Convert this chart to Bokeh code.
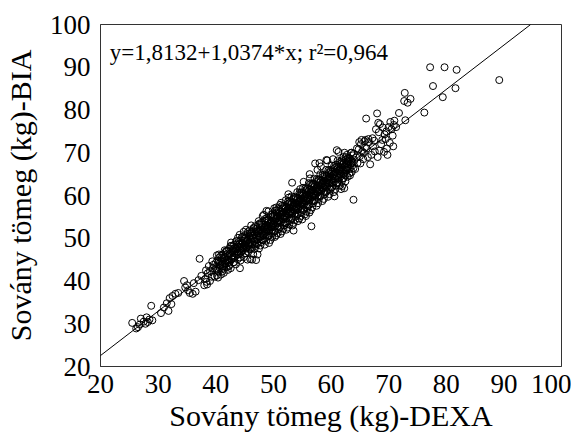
from bokeh.plotting import figure
from bokeh.models import ColumnDataSource, FixedTicker, Slope, Label
from bokeh.embed import file_html
from bokeh.resources import INLINE

# ---- data ----
x_ticks = [20, 30, 40, 50, 60, 70, 80, 90, 100]
y_ticks = [20, 30, 40, 50, 60, 70, 80, 90, 100]
x_label = "Sovány tömeg (kg)-DEXA"
y_label = "Sovány tömeg (kg)-BIA"
intercept = 1.8132
slope = 1.0374
eq_text = "y=1,8132+1,0374*x; r\u00b2=0,964"

low_points = [
    (25.5, 30.2), (26.5, 29.2), (26.8, 29.8), (27.0, 31.2), (27.5, 30.5), (28.0, 31.5),
    (28.2, 30.4), (28.5, 31.0), (28.8, 34.2), (29.0, 30.8), (27.8, 30.0), (26.2, 28.9),
    (30.5, 32.5), (31.0, 33.8), (31.5, 34.8), (31.8, 33.0), (32.0, 36.0), (32.5, 36.5),
    (33.0, 37.0), (32.3, 34.6), (33.5, 37.2), (34.5, 40.0), (34.7, 38.5), (35.0, 39.0),
    (35.5, 37.2), (36.0, 37.0), (36.5, 37.5), (35.2, 37.8), (36.2, 39.5), (37.0, 40.2),
    (37.5, 41.2), (37.2, 45.2), (38.0, 39.0), (38.5, 39.2), (38.3, 42.5), (39.0, 40.0),
    (39.5, 43.0), (39.8, 41.0), (38.2, 40.5), (38.6, 41.8), (39.0, 42.3), (39.3, 41.0),
    (39.6, 43.8), (39.9, 42.6), (38.8, 43.5), (39.4, 44.6), (38.4, 39.8),
]

mid_points = [
    (40.1, 43.0), (40.3, 44.8), (40.5, 42.1), (40.6, 45.5), (40.8, 43.7), (40.9, 41.5), (40.2, 46.0), (40.7, 44.2), (40.4, 40.8),
    (41.0, 44.5), (41.2, 42.8), (41.3, 46.2), (41.5, 44.0), (41.6, 45.3), (41.8, 43.2), (41.9, 47.1), (41.4, 41.9), (41.7, 46.8), (41.1, 43.9), (41.95, 44.9),
    (42.0, 45.8), (42.1, 42.6), (42.3, 47.5), (42.4, 44.3), (42.5, 46.3), (42.6, 43.0), (42.7, 48.2), (42.8, 45.1), (42.9, 46.9), (42.2, 44.9), (42.65, 49.0), (42.35, 43.6),
    (43.0, 47.2), (43.1, 44.4), (43.2, 48.5), (43.3, 45.9), (43.4, 47.9), (43.5, 43.9), (43.6, 49.3), (43.7, 46.6), (43.8, 45.1), (43.9, 48.0), (43.25, 46.9), (43.55, 47.5), (43.85, 50.1),
    (44.0, 46.2), (44.1, 48.7), (44.2, 47.3), (44.3, 44.8), (44.4, 49.5), (44.5, 46.9), (44.6, 48.1), (44.7, 50.4), (44.8, 47.6), (44.9, 45.6), (44.15, 50.8), (44.45, 47.9), (44.75, 49.0), (44.85, 51.5),
    (45.0, 48.4), (45.1, 46.5), (45.2, 50.0), (45.3, 47.8), (45.4, 49.3), (45.5, 45.0), (45.6, 51.0), (45.7, 48.8), (45.8, 50.3), (45.9, 47.4), (45.25, 52.0), (45.55, 49.6), (45.85, 51.8), (45.45, 48.1), (45.65, 46.8),
    (46.0, 49.8), (46.1, 47.9), (46.2, 51.2), (46.3, 48.6), (46.4, 50.5), (46.5, 46.3), (46.6, 52.3), (46.7, 49.4), (46.8, 51.0), (46.9, 48.2), (46.15, 53.0), (46.45, 50.0), (46.75, 47.5), (46.85, 52.8), (46.55, 51.6), (46.3, 45.0),
    (47.0, 50.6), (47.1, 48.8), (47.2, 52.2), (47.3, 49.7), (47.4, 51.3), (47.5, 47.6), (47.6, 53.2), (47.7, 50.5), (47.8, 52.0), (47.9, 49.1), (47.15, 51.7), (47.45, 54.0), (47.75, 48.3), (47.85, 53.6), (47.55, 50.1), (47.25, 46.2),
    (48.0, 51.5), (48.1, 49.6), (48.2, 53.2), (48.3, 50.8), (48.4, 52.4), (48.5, 48.5), (48.6, 54.1), (48.7, 51.6), (48.8, 53.0), (48.9, 50.3), (48.15, 55.2), (48.45, 52.0), (48.75, 49.4), (48.85, 54.7), (48.55, 51.1), (48.35, 55.5), (48.95, 52.6),
    (49.0, 52.4), (49.1, 50.6), (49.2, 54.2), (49.3, 51.8), (49.4, 53.4), (49.5, 49.6), (49.6, 55.0), (49.7, 52.6), (49.8, 54.1), (49.9, 51.2), (49.15, 56.3), (49.45, 52.9), (49.75, 50.3), (49.85, 55.7), (49.55, 53.8), (49.25, 48.9), (49.95, 53.2),
    (50.0, 53.5), (50.1, 51.5), (50.2, 55.2), (50.3, 52.8), (50.4, 54.4), (50.5, 50.7), (50.6, 56.0), (50.7, 53.6), (50.8, 55.1), (50.9, 52.1), (50.15, 57.0), (50.45, 53.9), (50.75, 51.2), (50.85, 56.8), (50.55, 54.7), (50.25, 50.3), (50.95, 54.0), (50.35, 56.5),
    (51.0, 54.3), (51.1, 52.5), (51.2, 56.1), (51.3, 53.7), (51.4, 55.4), (51.5, 51.6), (51.6, 57.0), (51.7, 54.6), (51.8, 56.1), (51.9, 53.0), (51.15, 57.8), (51.45, 54.9), (51.75, 52.2), (51.85, 57.6), (51.55, 55.8), (51.25, 51.0), (51.95, 55.0), (51.35, 58.3),
    (52.0, 55.4), (52.1, 53.4), (52.2, 57.2), (52.3, 54.7), (52.4, 56.4), (52.5, 52.5), (52.6, 58.1), (52.7, 55.6), (52.8, 57.2), (52.9, 54.1), (52.15, 58.9), (52.45, 55.9), (52.75, 53.2), (52.85, 58.7), (52.55, 56.8), (52.25, 52.0), (52.95, 56.0), (52.65, 59.5),
    (53.0, 56.4), (53.1, 54.5), (53.2, 58.2), (53.3, 55.8), (53.4, 57.4), (53.5, 53.6), (53.6, 59.1), (53.7, 56.6), (53.8, 58.2), (53.9, 55.1), (53.15, 59.8), (53.45, 56.9), (53.75, 54.2), (53.85, 59.7), (53.55, 57.8), (53.25, 63.0), (53.95, 57.0), (53.35, 53.0),
    (54.0, 57.5), (54.1, 55.5), (54.2, 59.3), (54.3, 56.8), (54.4, 58.4), (54.5, 54.6), (54.6, 60.1), (54.7, 57.6), (54.8, 59.2), (54.9, 56.1), (54.15, 60.8), (54.45, 57.9), (54.75, 55.2), (54.85, 60.7), (54.55, 58.8), (54.25, 54.0), (54.95, 58.0), (54.65, 61.5),
    (55.0, 58.5), (55.1, 56.6), (55.2, 60.3), (55.3, 57.8), (55.4, 59.5), (55.5, 55.6), (55.6, 61.2), (55.7, 58.7), (55.8, 60.2), (55.9, 57.1), (55.15, 61.8), (55.45, 58.9), (55.75, 56.2), (55.85, 61.7), (55.55, 59.8), (55.25, 63.2), (55.95, 59.0), (55.65, 55.2),
    (56.0, 59.6), (56.1, 57.6), (56.2, 61.3), (56.3, 58.9), (56.4, 60.5), (56.5, 56.6), (56.6, 62.2), (56.7, 59.7), (56.8, 61.3), (56.9, 58.2), (56.15, 62.9), (56.45, 60.0), (56.75, 57.2), (56.85, 62.8), (56.55, 60.8), (56.25, 56.0), (56.95, 60.1), (56.6, 52.8), (56.35, 64.0),
    (57.0, 60.6), (57.1, 58.7), (57.2, 62.4), (57.3, 59.9), (57.4, 61.5), (57.5, 57.6), (57.6, 63.3), (57.7, 60.8), (57.8, 62.3), (57.9, 59.2), (57.15, 63.9), (57.45, 61.0), (57.75, 58.2), (57.85, 63.8), (57.55, 61.8), (57.25, 67.5), (57.95, 61.2), (57.65, 66.0),
    (58.0, 61.6), (58.1, 59.8), (58.2, 63.4), (58.3, 61.0), (58.4, 62.6), (58.5, 58.7), (58.6, 64.3), (58.7, 61.8), (58.8, 63.4), (58.9, 60.3), (58.15, 65.0), (58.45, 62.0), (58.75, 59.2), (58.85, 64.9), (58.55, 62.8), (58.25, 66.8), (58.95, 62.2),
    (59.0, 62.7), (59.1, 60.8), (59.2, 64.5), (59.3, 62.0), (59.4, 63.6), (59.5, 59.7), (59.6, 65.3), (59.7, 62.9), (59.8, 64.4), (59.9, 61.4), (59.15, 66.0), (59.45, 63.0), (59.75, 60.3), (59.85, 66.0), (59.55, 63.9), (59.35, 68.2),
    (60.0, 63.8), (60.1, 61.9), (60.2, 65.5), (60.3, 63.0), (60.4, 64.7), (60.5, 60.8), (60.6, 66.4), (60.7, 63.9), (60.8, 65.5), (60.9, 62.4), (60.15, 67.0), (60.45, 64.1), (60.75, 61.5), (60.85, 67.2), (60.55, 65.0), (60.35, 68.5),
    (61.0, 64.8), (61.1, 62.9), (61.2, 66.6), (61.3, 64.0), (61.4, 65.7), (61.5, 62.3), (61.6, 67.4), (61.7, 64.9), (61.8, 66.5), (61.9, 63.4), (61.15, 68.2), (61.45, 65.1), (61.75, 61.5), (61.85, 68.2), (61.55, 66.0), (61.3, 70.2), (61.95, 62.2),
    (62.0, 65.9), (62.1, 64.0), (62.2, 67.6), (62.3, 65.1), (62.4, 66.7), (62.5, 63.3), (62.6, 68.4), (62.7, 65.9), (62.8, 67.5), (62.9, 64.4), (62.15, 69.0), (62.45, 66.1), (62.75, 69.5), (62.85, 68.0), (62.55, 64.8), (62.35, 70.0),
    (63.0, 66.9), (63.2, 68.7), (63.4, 67.4), (63.6, 65.5), (63.8, 69.4), (63.3, 64.7), (63.7, 68.0), (63.9, 66.4), (63.5, 70.0), (63.1, 67.8), (63.9, 59.0),
]

band_points = [
    (40.05, 44.3), (40.3, 42.4), (40.55, 46.2), (40.8, 43.7), (40.2, 41.3), (40.45, 44.4), (40.7, 43.1), (40.95, 46.0),
    (41.05, 45.4), (41.3, 43.4), (41.55, 47.2), (41.8, 44.8), (41.2, 42.3), (41.45, 45.4), (41.7, 44.2), (41.95, 47.0),
    (42.05, 46.4), (42.3, 44.5), (42.55, 48.2), (42.8, 45.8), (42.2, 43.4), (42.45, 46.4), (42.7, 45.2), (42.95, 48.1),
    (43.05, 47.5), (43.3, 45.5), (43.55, 49.3), (43.8, 46.8), (43.2, 44.4), (43.45, 47.5), (43.7, 46.2), (43.95, 49.1),
    (44.05, 48.5), (44.3, 46.6), (44.55, 50.3), (44.8, 47.9), (44.2, 45.5), (44.45, 48.5), (44.7, 47.3), (44.95, 50.1),
    (45.05, 49.5), (45.3, 47.6), (45.55, 51.4), (45.8, 48.9), (45.2, 46.5), (45.45, 49.6), (45.7, 48.3), (45.95, 51.2),
    (46.05, 50.6), (46.3, 48.6), (46.55, 52.4), (46.8, 49.9), (46.2, 47.5), (46.45, 50.6), (46.7, 49.3), (46.95, 52.2),
    (47.05, 51.6), (47.3, 49.7), (47.55, 53.4), (47.8, 51.0), (47.2, 48.6), (47.45, 51.6), (47.7, 50.4), (47.95, 53.2),
    (48.05, 52.6), (48.3, 50.7), (48.55, 54.5), (48.8, 52.0), (48.2, 49.6), (48.45, 52.7), (48.7, 51.4), (48.95, 54.3),
    (49.05, 53.7), (49.3, 51.7), (49.55, 55.5), (49.8, 53.1), (49.2, 50.6), (49.45, 53.7), (49.7, 52.5), (49.95, 55.3),
    (50.05, 54.7), (50.3, 52.8), (50.55, 56.5), (50.8, 54.1), (50.2, 51.7), (50.45, 54.7), (50.7, 53.5), (50.95, 56.4),
    (51.05, 55.8), (51.3, 53.8), (51.55, 57.6), (51.8, 55.1), (51.2, 52.7), (51.45, 55.8), (51.7, 54.5), (51.95, 57.4),
    (52.05, 56.8), (52.3, 54.8), (52.55, 58.6), (52.8, 56.2), (52.2, 53.7), (52.45, 56.8), (52.7, 55.6), (52.95, 58.4),
    (53.05, 57.8), (53.3, 55.9), (53.55, 59.6), (53.8, 57.2), (53.2, 54.8), (53.45, 57.8), (53.7, 56.6), (53.95, 59.5),
    (54.05, 58.9), (54.3, 56.9), (54.55, 60.7), (54.8, 58.2), (54.2, 55.8), (54.45, 58.9), (54.7, 57.6), (54.95, 60.5),
    (55.05, 59.9), (55.3, 58.0), (55.55, 61.7), (55.8, 59.3), (55.2, 56.9), (55.45, 59.9), (55.7, 58.7), (55.95, 61.5),
    (56.05, 60.9), (56.3, 59.0), (56.55, 62.8), (56.8, 60.3), (56.2, 57.9), (56.45, 61.0), (56.7, 59.7), (56.95, 62.6),
    (57.05, 62.0), (57.3, 60.0), (57.55, 63.8), (57.8, 61.4), (57.2, 58.9), (57.45, 62.0), (57.7, 60.8), (57.95, 63.6),
    (58.05, 63.0), (58.3, 61.1), (58.55, 64.8), (58.8, 62.4), (58.2, 60.0), (58.45, 63.0), (58.7, 61.8), (58.95, 64.7),
    (59.05, 64.0), (59.3, 62.1), (59.55, 65.9), (59.8, 63.4), (59.2, 61.0), (59.45, 64.1), (59.7, 62.8), (59.95, 65.7),
    (60.05, 65.1), (60.3, 63.1), (60.55, 66.9), (60.8, 64.5), (60.2, 62.0), (60.45, 65.1), (60.7, 63.9), (60.95, 66.7),
    (61.05, 66.1), (61.3, 64.2), (61.55, 67.9), (61.8, 65.5), (61.2, 63.1), (61.45, 66.1), (61.7, 64.9), (61.95, 67.8),
    (62.05, 67.2), (62.3, 65.2), (62.55, 69.0), (62.8, 66.5), (62.2, 64.1), (62.45, 67.2), (62.7, 65.9), (62.95, 68.8),
    (63.05, 68.2), (63.3, 66.3), (63.55, 70.0), (63.8, 67.6), (63.2, 65.2), (63.45, 68.2), (63.7, 67.0), (63.95, 69.8),
    (44.2, 43.0), (46.0, 45.1), (47.0, 44.9), (48.8, 56.4), (50.5, 57.2), (52.6, 60.3), (56.3, 65.0), (58.0, 67.6),
    (59.2, 68.3), (61.0, 70.6), (53.5, 51.8), (55.0, 54.4), (60.6, 59.8), (62.3, 61.7),
]

high_points = [
    (64.2, 66.2), (64.4, 68.9), (64.6, 67.6), (64.8, 70.8), (65.0, 69.2), (65.2, 72.0), (65.4, 70.3), (65.6, 68.5),
    (65.8, 72.7), (65.3, 73.0), (65.9, 71.2), (64.9, 72.5), (65.1, 67.5), (65.7, 70.0), (64.5, 71.0),
    (66.0, 73.0), (66.2, 71.0), (66.4, 69.0), (66.6, 72.5), (66.8, 67.3), (66.1, 78.0), (66.5, 73.2), (67.0, 69.5),
    (67.3, 71.5), (67.5, 72.8), (67.8, 75.5), (67.2, 73.4), (67.6, 70.3),
    (68.0, 79.2), (68.2, 77.0), (68.3, 74.8), (68.5, 76.7), (68.7, 72.0), (68.4, 70.5), (68.1, 69.0), (68.9, 73.0),
    (69.0, 75.9), (69.3, 74.3), (69.5, 73.2), (69.7, 71.0), (69.2, 70.2), (69.8, 69.5), (70.0, 76.0), (70.3, 77.2),
    (70.5, 75.5), (70.2, 72.3), (70.7, 74.0), (70.9, 76.5), (69.6, 75.0), (71.0, 77.5), (71.3, 76.0), (70.8, 71.5),
    (71.8, 79.3), (72.9, 77.6), (72.8, 84.0), (72.7, 82.1), (73.3, 81.7), (73.8, 82.6),
    (76.2, 79.4), (77.2, 90.0), (77.7, 85.6), (79.7, 90.0), (79.4, 83.0), (81.8, 89.4), (81.6, 85.1), (89.2, 87.0),
]

all_points = low_points + mid_points + band_points + high_points
dexa = [pt[0] for pt in all_points]
bia = [pt[1] for pt in all_points]

FONT = "Liberation Serif"

p = figure(width=571, height=436, x_range=(20, 100), y_range=(20, 100),
           output_backend="svg", toolbar_location=None,
           min_border_left=96, min_border_right=10, min_border_top=24, min_border_bottom=70)
p.xgrid.visible = False
p.ygrid.visible = False
p.outline_line_color = "#333333"
p.outline_line_width = 1
p.outline_line_alpha = 1
p.background_fill_color = "white"
p.border_fill_color = "white"

for ax, ticks, lab in ((p.xaxis, x_ticks, x_label), (p.yaxis, y_ticks, y_label)):
    ax.ticker = FixedTicker(ticks=ticks)
    ax.axis_label = lab
    ax.axis_label_text_font = FONT
    ax.axis_label_text_font_size = "30px"
    ax.axis_label_text_font_style = "normal"
    ax.axis_label_text_color = "black"
    ax.major_label_text_font = FONT
    ax.major_label_text_font_size = "27px"
    ax.major_label_text_color = "black"
    ax.major_tick_line_color = None
    ax.minor_tick_line_color = None
    ax.axis_line_color = "#333333"

p.xaxis.major_label_standoff = 2
p.yaxis.major_label_standoff = 4
p.xaxis.axis_label_standoff = 3
p.yaxis.axis_label_standoff = 10

src = ColumnDataSource(dict(x=dexa, y=bia))
p.scatter("x", "y", source=src, marker="circle", size=7, fill_color=None,
          line_color="black", line_width=1)

p.add_layout(Slope(gradient=slope, y_intercept=intercept, line_color="black", line_width=1))

p.add_layout(Label(x=21.6, y=93.4, text=eq_text, text_font=FONT, text_font_size="23px",
                   text_color="black", text_baseline="middle", text_align="left"))

open("out.html", "w").write(file_html(p, INLINE))
